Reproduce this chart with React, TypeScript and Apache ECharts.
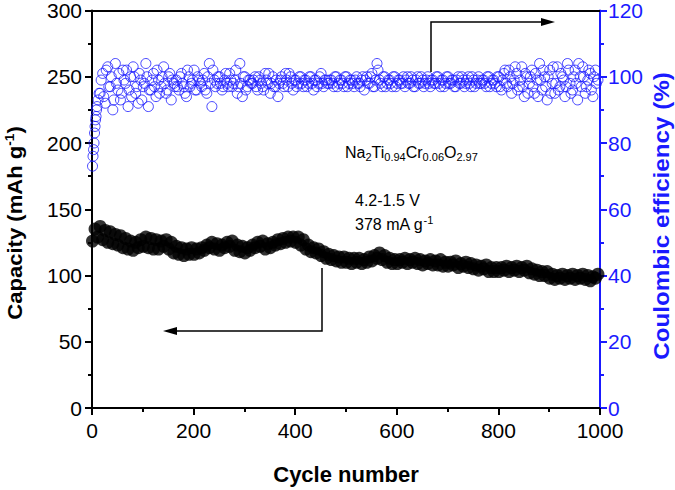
import React, { useEffect, useRef } from "react";
import * as echarts from "echarts";

// Capacity (mAh g-1), sampled every 5 cycles starting at cycle 1
const capacityStartCycle = 1;
const cycleStep = 5;
const capacity = [
  126, 135, 129, 137, 127, 134, 125, 133, 124, 131,
  123, 130, 121, 128, 120, 126, 119, 125, 121, 127,
  122, 129, 121, 128, 120, 127, 120, 126, 122, 127,
  120, 125, 117, 122, 116, 121, 115, 120, 116, 121,
  116, 120, 117, 121, 119, 123, 121, 125, 120, 124,
  119, 123, 121, 125, 122, 126, 119, 123, 118, 122,
  117, 121, 119, 123, 121, 125, 122, 126, 120, 124,
  121, 125, 123, 127, 124, 128, 125, 129, 126, 129,
  125, 129, 123, 127, 120, 123, 118, 121, 117, 120,
  115, 118, 113, 116, 112, 115, 111, 114, 110, 114,
  110, 113, 109, 113, 110, 113, 109, 112, 110, 114,
  111, 115, 113, 117, 112, 115, 110, 113, 109, 112,
  109, 112, 110, 113, 109, 112, 110, 113, 109, 112,
  108, 111, 109, 112, 108, 111, 108, 112, 107, 110,
  107, 110, 108, 111, 106, 109, 107, 110, 106, 109,
  105, 108, 104, 107, 105, 108, 103, 106, 103, 106,
  103, 106, 104, 107, 103, 106, 104, 107, 103, 106,
  104, 107, 102, 105, 101, 104, 100, 103, 100, 103,
  98, 101, 97, 100, 98, 101, 97, 100, 98, 101,
  97, 100, 98, 101, 97, 100, 96, 99, 98, 101,
];

// Coulombic efficiency (%), first cycles
const ceEarlyCycles = [1, 2, 3, 4, 5, 6, 7, 8, 9, 10, 12, 14];
const ceEarly = [73, 76, 78, 80, 83, 85, 87, 88, 90, 91, 93, 95];
// Coulombic efficiency (%), every 5 cycles from cycle 16
const ceStartCycle = 16;
const ce = [
  95, 101, 92, 103, 97, 90, 104, 96, 93, 102,
  98, 91, 100, 103, 95, 92, 99, 97, 104, 91,
  96, 101, 94, 99, 97, 103, 95, 100, 93, 98,
  99, 96, 101, 97, 94, 100, 98, 102, 96, 99,
  97, 101, 95, 104, 91, 99, 98, 100, 96, 99,
  98, 101, 97, 99, 95, 104, 94, 100, 97, 99,
  98, 100, 96, 99, 97, 101, 98, 95, 100, 97,
  94, 99, 98, 101, 97, 100, 96, 99, 98, 100,
  97, 99, 98, 100, 96, 99, 98, 101, 97, 99,
  98, 99, 97, 100, 98, 99, 97, 100, 98, 99,
  97, 100, 98, 99, 96, 100, 98, 101, 97, 104,
  99, 97, 100, 98, 99, 97, 100, 98, 99, 98,
  97, 100, 98, 99, 97, 100, 98, 99, 98, 100,
  97, 99, 98, 100, 97, 99, 98, 100, 98, 99,
  97, 100, 98, 99, 98, 100, 97, 99, 98, 100,
  98, 99, 97, 100, 98, 99, 97, 100, 96, 101,
  98, 102, 95, 99, 101, 97, 103, 94, 100, 98,
  102, 95, 99, 104, 96, 100, 93, 102, 98, 95,
  103, 97, 100, 94, 104, 98, 96, 102, 93, 100,
  103, 95, 99, 101, 94, 102, 99,
];
// Coulombic efficiency (%), every 5 cycles from cycle 18
const ceStartCycleB = 18;
const ceB = [
  99, 94, 102, 97, 100, 93, 98, 101, 95, 99,
  102, 96, 94, 100, 97, 101, 93, 98, 100, 96,
  99, 97, 102, 95, 100, 98, 96, 101, 99, 97,
  97, 100, 98, 95, 102, 97, 99, 96, 100, 98,
  99, 96, 100, 98, 102, 97, 100, 98, 97, 101,
  97, 99, 98, 102, 97, 98, 100, 96, 99, 98,
  99, 97, 100, 98, 96, 99, 101, 98, 97, 99,
  98, 100, 97, 99, 101, 98, 99, 97, 100, 98,
  99, 97, 100, 98, 99, 97, 100, 98, 99, 98,
  99, 98, 100, 97, 99, 98, 100, 97, 99, 98,
  99, 98, 97, 100, 99, 98, 100, 97, 99, 102,
  98, 100, 97, 99, 98, 100, 97, 99, 98, 100,
  99, 98, 100, 97, 99, 98, 100, 97, 99, 98,
  99, 98, 100, 98, 99, 97, 100, 98, 99, 97,
  99, 98, 100, 97, 99, 98, 100, 97, 99, 98,
  99, 98, 100, 97, 99, 98, 100, 97, 99, 102,
  97, 100, 98, 103, 96, 99, 97, 101, 95, 100,
  97, 101, 94, 99, 102, 97, 100, 95, 103, 98,
  96, 101, 99, 97, 102, 95, 100, 98, 104, 97,
  100, 97, 102, 96, 100, 98,
];

const xTicks = { min: 0, max: 1000, interval: 200 };
const leftTicks = { min: 0, max: 300, interval: 50 };
const rightTicks = { min: 0, max: 120, interval: 20 };

const FONT = "'Liberation Sans', Arial, sans-serif";
const BLUE = "#1a1aff";

export default function App() {
  const ref = useRef<HTMLDivElement>(null);
  useEffect(() => {
    if (!ref.current) return;
    const chart = echarts.init(ref.current, undefined, { renderer: "svg" });

    const capData = capacity.map((v, i) => [capacityStartCycle + i * cycleStep, v]);
    const ceData = [
      ...ceEarly.map((v, i) => [ceEarlyCycles[i], v]),
      ...ce.map((v, i) => [ceStartCycle + i * cycleStep, v]),
      ...ceB.map((v, i) => [ceStartCycleB + i * cycleStep, v]),
    ];

    const axisCommon = (color: string) => ({
      axisLine: { show: true, onZero: false, lineStyle: { color, width: 2 } },
      axisTick: { show: true, inside: false, length: 7, lineStyle: { color, width: 2 } },
      minorTick: { show: true, splitNumber: 2, length: 4, lineStyle: { color, width: 2 } },
      splitLine: { show: false },
    });
    const fmt = (v: number) => String(v);

    const sub = { fontSize: 11, fontFamily: FONT, color: "#000", verticalAlign: "bottom", lineHeight: 8 };
    const main = { fontSize: 16, fontFamily: FONT, color: "#000", lineHeight: 20 };

    chart.setOption({
      animation: false,
      backgroundColor: "#fff",
      grid: { left: 92, right: 75, top: 10, bottom: 77, containLabel: false },
      xAxis: [
        {
          type: "value",
          ...xTicks,
          ...axisCommon("#000"),
          axisLabel: { color: "#000", fontSize: 21, fontFamily: FONT, margin: 12, formatter: fmt },
          name: "Cycle number",
          nameLocation: "middle",
          nameGap: 55,
          nameTextStyle: { fontSize: 22, fontWeight: "bold", color: "#000", fontFamily: FONT },
        },
        {
          type: "value",
          position: "top",
          ...xTicks,
          axisLine: { show: true, onZero: false, lineStyle: { color: "#000", width: 2 } },
          axisTick: { show: false },
          axisLabel: { show: false },
          splitLine: { show: false },
        },
      ],
      yAxis: [
        {
          type: "value",
          position: "left",
          ...leftTicks,
          ...axisCommon("#000"),
          axisLabel: { color: "#000", fontSize: 21, fontFamily: FONT, margin: 10, formatter: fmt },
        },
        {
          type: "value",
          position: "right",
          ...rightTicks,
          ...axisCommon(BLUE),
          axisLabel: { color: BLUE, fontSize: 21, fontFamily: FONT, margin: 8, formatter: fmt },
        },
      ],
      series: [
        {
          type: "scatter",
          yAxisIndex: 1,
          data: ceData,
          symbol: "circle",
          symbolSize: 10,
          itemStyle: { color: "rgba(0,0,0,0)", borderColor: BLUE, borderWidth: 1 },
          z: 2,
        },
        {
          type: "scatter",
          yAxisIndex: 0,
          data: capData,
          symbol: "circle",
          symbolSize: 13,
          itemStyle: { color: "#000" },
          z: 3,
        },
      ],
      graphic: [
        {
          type: "text",
          x: 15,
          y: 223,
          rotation: Math.PI / 2,
          scaleX: 1.05,
          style: {
            text: "{b|Capacity (mAh g}{sup|-1}{b|)}",
            align: "center",
            verticalAlign: "middle",
            rich: {
              b: { fontSize: 21, fontWeight: "bold", fontFamily: FONT, color: "#000", lineHeight: 24 },
              sup: { fontSize: 13, fontWeight: "bold", fontFamily: FONT, color: "#000", verticalAlign: "top", lineHeight: 10 },
            },
          },
        },
        {
          type: "text",
          x: 661,
          y: 216,
          rotation: Math.PI / 2,
          scaleX: 1.1,
          style: {
            text: "Coulombic efficiency (%)",
            fontSize: 22,
            fontWeight: "bold",
            fontFamily: FONT,
            fill: BLUE,
            align: "center",
            verticalAlign: "middle",
          },
        },
        {
          type: "text",
          x: 345,
          y: 152,
          style: {
            text: "{m|Na}{s|2}{m|Ti}{s|0.94}{m|Cr}{s|0.06}{m|O}{s|2.97}",
            align: "left",
            verticalAlign: "middle",
            rich: { m: main, s: sub },
          },
        },
        {
          type: "text",
          x: 355,
          y: 200,
          style: { text: "4.2-1.5 V", fontSize: 16, fontFamily: FONT, fill: "#000", align: "left", verticalAlign: "middle" },
        },
        {
          type: "text",
          x: 355,
          y: 224,
          style: {
            text: "{m|378 mA g}{sup|-1}",
            align: "left",
            verticalAlign: "middle",
            rich: {
              m: main,
              sup: { fontSize: 11, fontFamily: FONT, color: "#000", verticalAlign: "top", lineHeight: 8 },
            },
          },
        },
        {
          type: "polyline",
          shape: { points: [[431, 72], [431, 22], [544, 22]] },
          style: { stroke: "#000", lineWidth: 1.5, fill: "none" },
        },
        {
          type: "polygon",
          shape: { points: [[555, 22], [541, 18], [541, 26]] },
          style: { fill: "#000" },
        },
        {
          type: "polyline",
          shape: { points: [[322, 268], [322, 331], [174, 331]] },
          style: { stroke: "#000", lineWidth: 1.5, fill: "none" },
        },
        {
          type: "polygon",
          shape: { points: [[163, 331], [177, 327], [177, 335]] },
          style: { fill: "#000" },
        },
      ],
    });
    return () => chart.dispose();
  }, []);
  return <div ref={ref} style={{ width: 675, height: 490, position: "absolute", left: 0, top: 0 }} />;
}
